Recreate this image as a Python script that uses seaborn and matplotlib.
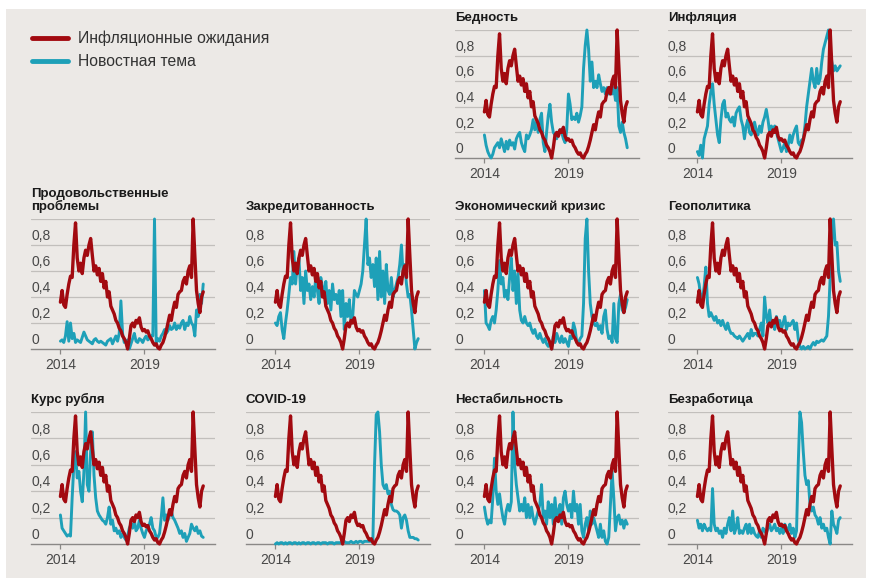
import numpy as np
import pandas as pd
import matplotlib
matplotlib.use("Agg")
import matplotlib.pyplot as plt
import matplotlib.transforms as mtransforms
from matplotlib.lines import Line2D
from matplotlib.patches import Rectangle
import seaborn as sns

# ---------------- data ----------------
start_year = 2014.0
step_years = 0.1
n_points = 86

legend_labels = ["Инфляционные ожидания", "Новостная тема"]
ytick_values = [0, 0.2, 0.4, 0.6, 0.8]
ytick_labels = ["0", "0,2", "0,4", "0,6", "0,8"]
xtick_values = [2014, 2019]
xtick_labels = ["2014", "2019"]

expectations = [
    0.36, 0.45, 0.34, 0.32, 0.42, 0.50, 0.56, 0.55, 0.80, 0.97,
    0.70, 0.60, 0.66, 0.58, 0.70, 0.76, 0.72, 0.80, 0.85, 0.72,
    0.60, 0.64, 0.57, 0.62, 0.52, 0.58, 0.47, 0.52, 0.40, 0.44,
    0.33, 0.30, 0.27, 0.22, 0.20, 0.16, 0.14, 0.10, 0.08, 0.05,
    0.00, 0.08, 0.18, 0.20, 0.17, 0.22, 0.20, 0.24, 0.17, 0.14,
    0.15, 0.13, 0.14, 0.10, 0.08, 0.05, 0.03, 0.04, 0.01, 0.00,
    0.03, 0.05, 0.09, 0.14, 0.20, 0.26, 0.22, 0.30, 0.36, 0.32,
    0.42, 0.44, 0.45, 0.52, 0.55, 0.50, 0.60, 0.64, 0.55, 1.00,
    0.72, 0.45, 0.35, 0.28, 0.40, 0.44,
]

bednost = [
    0.18, 0.10, 0.05, 0.02, 0.00, 0.03, 0.08, 0.10, 0.12, 0.08,
    0.15, 0.10, 0.05, 0.13, 0.07, 0.14, 0.10, 0.12, 0.07, 0.15,
    0.18, 0.20, 0.12, 0.08, 0.05, 0.18, 0.15, 0.18, 0.22, 0.30,
    0.22, 0.28, 0.20, 0.30, 0.35, 0.12, 0.05, 0.20, 0.33, 0.42,
    0.28, 0.20, 0.18, 0.15, 0.20, 0.22, 0.20, 0.15, 0.12, 0.22,
    0.50, 0.42, 0.30, 0.32, 0.30, 0.35, 0.28, 0.33, 0.40, 0.70,
    0.88, 1.00, 0.85, 0.60, 0.75, 0.55, 0.60, 0.55, 0.65, 0.58,
    0.52, 0.55, 0.50, 0.55, 0.50, 0.55, 0.50, 0.55, 0.45, 0.55,
    0.25, 0.20, 0.28, 0.20, 0.15, 0.08,
]

inflyatsiya = [
    0.05, 0.02, 0.10, 0.00, 0.15, 0.20, 0.25, 0.42, 0.52, 0.58,
    0.42, 0.30, 0.18, 0.12, 0.30, 0.42, 0.45, 0.32, 0.35, 0.30,
    0.28, 0.32, 0.25, 0.35, 0.38, 0.40, 0.30, 0.25, 0.15, 0.25,
    0.30, 0.20, 0.18, 0.22, 0.28, 0.22, 0.18, 0.25, 0.20, 0.28,
    0.32, 0.38, 0.30, 0.20, 0.25, 0.22, 0.25, 0.20, 0.15, 0.10,
    0.05, 0.08, 0.12, 0.05, 0.10, 0.18, 0.12, 0.18, 0.22, 0.25,
    0.12, 0.10, 0.14, 0.15, 0.25, 0.40, 0.50, 0.60, 0.70, 0.60,
    0.55, 0.70, 0.58, 0.62, 0.75, 0.85, 0.90, 0.95, 1.00, 0.85,
    0.75, 0.68, 0.72, 0.68, 0.70, 0.72,
]

prodovolstvie = [
    0.06, 0.07, 0.05, 0.10, 0.21, 0.06, 0.20, 0.08, 0.12, 0.05,
    0.07, 0.06, 0.05, 0.09, 0.13, 0.10, 0.07, 0.06, 0.05, 0.04,
    0.07, 0.08, 0.06, 0.05, 0.06, 0.05, 0.04, 0.03, 0.06, 0.07,
    0.08, 0.04, 0.07, 0.10, 0.06, 0.12, 0.37, 0.12, 0.05, 0.06,
    0.07, 0.00, 0.04, 0.08, 0.12, 0.06, 0.05, 0.08, 0.07, 0.05,
    0.08, 0.10, 0.07, 0.08, 0.10, 0.10, 1.00, 0.05, 0.08, 0.06,
    0.10, 0.12, 0.15, 0.12, 0.14, 0.18, 0.15, 0.16, 0.20, 0.15,
    0.18, 0.16, 0.20, 0.22, 0.15, 0.20, 0.18, 0.25, 0.20, 0.18,
    0.10, 0.30, 0.25, 0.42, 0.35, 0.50,
]

zakreditovannost = [
    0.20, 0.18, 0.25, 0.28, 0.15, 0.08, 0.20, 0.30, 0.42, 0.55,
    0.50, 0.75, 0.50, 0.65, 0.70, 0.45, 0.55, 0.35, 0.60, 0.45,
    0.50, 0.38, 0.48, 0.40, 0.55, 0.45, 0.35, 0.55, 0.48, 0.40,
    0.52, 0.35, 0.45, 0.30, 0.50, 0.38, 0.42, 0.35, 0.45, 0.25,
    0.45, 0.15, 0.35, 0.25, 0.38, 0.20, 0.25, 0.45, 0.42, 0.40,
    0.45, 0.50, 0.60, 0.80, 1.00, 0.65, 0.70, 0.55, 0.65, 0.48,
    0.70, 0.38, 0.75, 0.40, 0.60, 0.35, 0.65, 0.45, 0.42, 0.55,
    0.40, 0.45, 0.50, 0.55, 0.65, 0.80, 0.58, 0.65, 0.50, 0.40,
    0.42, 0.30, 0.15, 0.00, 0.05, 0.08,
]

ekon_krizis = [
    0.45, 0.20, 0.18, 0.15, 0.22, 0.25, 0.20, 0.30, 0.45, 0.68,
    0.50, 0.55, 0.40, 0.45, 0.38, 0.55, 0.70, 0.45, 0.60, 0.35,
    0.58, 0.30, 0.22, 0.20, 0.25, 0.20, 0.18, 0.20, 0.15, 0.12,
    0.15, 0.10, 0.08, 0.12, 0.08, 0.05, 0.08, 0.04, 0.02, 0.05,
    0.00, 0.10, 0.05, 0.12, 0.08, 0.05, 0.10, 0.05, 0.08, 0.05,
    0.02, 0.10, 0.08, 0.20, 0.15, 0.05, 0.05, 0.08, 0.10, 0.35,
    0.85, 1.00, 0.60, 0.35, 0.25, 0.20, 0.18, 0.20, 0.15, 0.18,
    0.12, 0.25, 0.30, 0.15, 0.08, 0.10, 0.05, 0.35, 0.08, 0.05,
    0.35, 0.42, 0.30, 0.28, 0.32, 0.38,
]

geopolitika = [
    0.55, 0.50, 0.40, 0.38, 0.48, 0.63, 0.35, 0.25, 0.28, 0.25,
    0.22, 0.25, 0.20, 0.22, 0.18, 0.22, 0.18, 0.15, 0.20, 0.15,
    0.12, 0.12, 0.10, 0.09, 0.08, 0.10, 0.08, 0.06, 0.08, 0.10,
    0.12, 0.08, 0.15, 0.10, 0.12, 0.12, 0.10, 0.15, 0.20, 0.10,
    0.40, 0.25, 0.20, 0.30, 0.18, 0.22, 0.15, 0.25, 0.20, 0.22,
    0.15, 0.20, 0.25, 0.15, 0.20, 0.18, 0.20, 0.22, 0.15, 0.20,
    0.08, 0.02, 0.00, 0.02, 0.00, 0.01, 0.02, 0.00, 0.03, 0.05,
    0.03, 0.06, 0.05, 0.06, 0.07, 0.06, 0.08, 0.10, 0.25, 0.55,
    0.85, 1.00, 0.80, 0.82, 0.60, 0.52,
]

kurs_rublya = [
    0.22, 0.12, 0.10, 0.08, 0.06, 0.07, 0.06, 0.35, 0.60, 0.70,
    0.50, 0.55, 0.40, 0.32, 0.55, 1.00, 0.45, 0.40, 0.70, 0.85,
    0.52, 0.35, 0.25, 0.22, 0.20, 0.18, 0.17, 0.15, 0.20, 0.28,
    0.15, 0.18, 0.10, 0.12, 0.08, 0.10, 0.05, 0.08, 0.05, 0.03,
    0.06, 0.12, 0.15, 0.12, 0.18, 0.10, 0.12, 0.18, 0.12, 0.08,
    0.05, 0.10, 0.12, 0.15, 0.20, 0.12, 0.10, 0.05, 0.05, 0.08,
    0.20, 0.35, 0.18, 0.22, 0.18, 0.22, 0.25, 0.20, 0.18, 0.15,
    0.12, 0.08, 0.10, 0.05, 0.08, 0.02, 0.05, 0.08, 0.15, 0.12,
    0.10, 0.13, 0.08, 0.10, 0.06, 0.05,
]

covid = [
    0.00, 0.01, 0.00, 0.01, 0.01, 0.00, 0.01, 0.00, 0.01, 0.01,
    0.00, 0.01, 0.01, 0.00, 0.01, 0.00, 0.01, 0.01, 0.00, 0.01,
    0.01, 0.00, 0.01, 0.01, 0.00, 0.01, 0.01, 0.00, 0.01, 0.01,
    0.01, 0.00, 0.01, 0.01, 0.01, 0.00, 0.01, 0.01, 0.01, 0.01,
    0.01, 0.02, 0.01, 0.01, 0.01, 0.02, 0.01, 0.01, 0.02, 0.01,
    0.02, 0.02, 0.01, 0.02, 0.02, 0.02, 0.02, 0.02, 0.03, 0.60,
    0.98, 1.00, 0.85, 0.60, 0.45, 0.42, 0.45, 0.38, 0.40, 0.30,
    0.26, 0.25, 0.25, 0.24, 0.22, 0.12, 0.20, 0.22, 0.18, 0.10,
    0.05, 0.05, 0.05, 0.04, 0.04, 0.03,
]

nestabilnost = [
    0.28, 0.20, 0.15, 0.18, 0.16, 0.35, 0.65, 0.40, 0.30, 0.38,
    0.28, 0.20, 0.15, 0.25, 0.30, 0.25, 0.32, 1.00, 0.60, 0.45,
    0.35, 0.25, 0.30, 0.25, 0.35, 0.20, 0.30, 0.20, 0.28, 0.20,
    0.15, 0.20, 0.25, 0.30, 0.45, 0.20, 0.25, 0.15, 0.32, 0.20,
    0.30, 0.15, 0.35, 0.20, 0.25, 0.30, 0.15, 0.35, 0.40, 0.30,
    0.25, 0.30, 0.20, 0.40, 0.25, 0.30, 0.15, 0.30, 0.10, 0.05,
    0.15, 0.20, 0.10, 0.25, 0.15, 0.20, 0.15, 0.10, 0.05, 0.15,
    0.05, 0.10, 0.02, 0.00, 0.05, 0.30, 0.55, 0.35, 0.10, 0.20,
    0.22, 0.15, 0.18, 0.12, 0.18, 0.15,
]

bezrabotitsa = [
    0.18, 0.12, 0.15, 0.10, 0.15, 0.12, 0.10, 0.12, 0.10, 0.42,
    0.15, 0.10, 0.12, 0.08, 0.10, 0.05, 0.12, 0.08, 0.15, 0.20,
    0.10, 0.25, 0.08, 0.12, 0.20, 0.08, 0.10, 0.08, 0.12, 0.15,
    0.08, 0.15, 0.08, 0.12, 0.08, 0.06, 0.05, 0.10, 0.05, 0.12,
    0.10, 0.08, 0.12, 0.15, 0.10, 0.12, 0.15, 0.10, 0.12, 0.08,
    0.12, 0.08, 0.15, 0.12, 0.10, 0.15, 0.08, 0.12, 0.05, 0.10,
    0.60, 1.00, 0.92, 0.70, 0.52, 0.45, 0.48, 0.30, 0.25, 0.28,
    0.22, 0.20, 0.15, 0.20, 0.12, 0.15, 0.10, 0.12, 0.05, 0.00,
    0.25, 0.15, 0.12, 0.08, 0.18, 0.20,
]

panel_titles = [
    "Бедность", "Инфляция",
    "Продовольственные\nпроблемы", "Закредитованность",
    "Экономический кризис", "Геополитика",
    "Курс рубля", "COVID-19", "Нестабильность", "Безработица",
]
panel_series = [
    bednost, inflyatsiya,
    prodovolstvie, zakreditovannost, ekon_krizis, geopolitika,
    kurs_rublya, covid, nestabilnost, bezrabotitsa,
]

years = start_year + step_years * np.arange(n_points)

# ---------------- style ----------------
RED = "#a20a10"
TEAL = "#1ea0b8"
BG = "#ece9e6"
GRID = "#c2bfbc"
AXIS = "#8a8886"
TXT = "#484848"

sns.set_theme(style="white")
plt.rcParams["font.family"] = ["Liberation Sans", "DejaVu Sans"]

W, H = 873, 580
fig = plt.figure(figsize=(W / 100, H / 100), dpi=100)
fig.patch.set_facecolor("white")
fig.patches.append(Rectangle((6 / W, 2 / H), 860 / W, 569 / H,
                             transform=fig.transFigure, facecolor=BG,
                             edgecolor="none", zorder=-10))

# panel placement (pixels): column lefts, row (top, bottom)
col_left = [31, 246, 455, 668]
panel_w = 184
rows = [(30, 158), (219, 349), (412, 544)]
slots = [(0, 2), (0, 3),
         (1, 0), (1, 1), (1, 2), (1, 3),
         (2, 0), (2, 1), (2, 2), (2, 3)]

for title, series, (r, c) in zip(panel_titles, panel_series, slots):
    top, bot = rows[r]
    ax = fig.add_axes([col_left[c] / W, (H - bot) / H, panel_w / W, (bot - top) / H])
    ax.set_facecolor("none")
    for s in ["top", "right", "left"]:
        ax.spines[s].set_visible(False)
    ax.spines["bottom"].set_color(AXIS)
    ax.spines["bottom"].set_linewidth(1.0)
    for v in [0.2, 0.4, 0.6, 0.8, 1.0]:
        ax.axhline(v, color=GRID, lw=0.9, zorder=0)

    df = pd.DataFrame({"year": years, "topic": series, "exp": expectations})
    sns.lineplot(data=df, x="year", y="topic", ax=ax, color=TEAL, lw=2.1,
                 estimator=None, clip_on=False, zorder=3)
    sns.lineplot(data=df, x="year", y="exp", ax=ax, color=RED, lw=2.4,
                 estimator=None, clip_on=False, zorder=4)

    ax.set_xlim(2012.25, 2023.2)
    ax.set_ylim(0, 1)
    ax.set_xlabel("")
    ax.set_ylabel("")
    ax.set_yticks([])
    ax.set_xticks(xtick_values)
    ax.set_xticklabels(xtick_labels)
    ax.tick_params(axis="x", length=3.5, width=0.9, color=AXIS, pad=3,
                   labelsize=10, labelcolor=TXT, bottom=True, direction="out")

    trans = mtransforms.blended_transform_factory(ax.transAxes, ax.transData)
    off = mtransforms.offset_copy(trans, fig=fig, x=0, y=3.5, units="points")
    for v, lab in zip(ytick_values, ytick_labels):
        ax.text(0, v, lab, transform=off, ha="left", va="baseline",
                fontsize=10, color=TXT)

    toff = mtransforms.offset_copy(ax.transAxes, fig=fig, x=0, y=4, units="points")
    ax.text(0, 1, title, transform=toff, ha="left", va="bottom",
            fontsize=9.5, fontweight="bold", color="#1a1a1a", linespacing=1.0)

handles = [Line2D([], [], color=RED, lw=3.5), Line2D([], [], color=TEAL, lw=3.5)]
leg = fig.legend(handles=handles, labels=legend_labels, loc="upper left",
                 bbox_to_anchor=(32 / W, 1 - 31 / H), frameon=False,
                 fontsize=11.3, handlelength=2.3, handletextpad=0.6,
                 labelspacing=0.5, borderpad=0, borderaxespad=0)
for t in leg.get_texts():
    t.set_color("#333333")

fig.savefig("out.png", dpi=100, facecolor=fig.get_facecolor())
